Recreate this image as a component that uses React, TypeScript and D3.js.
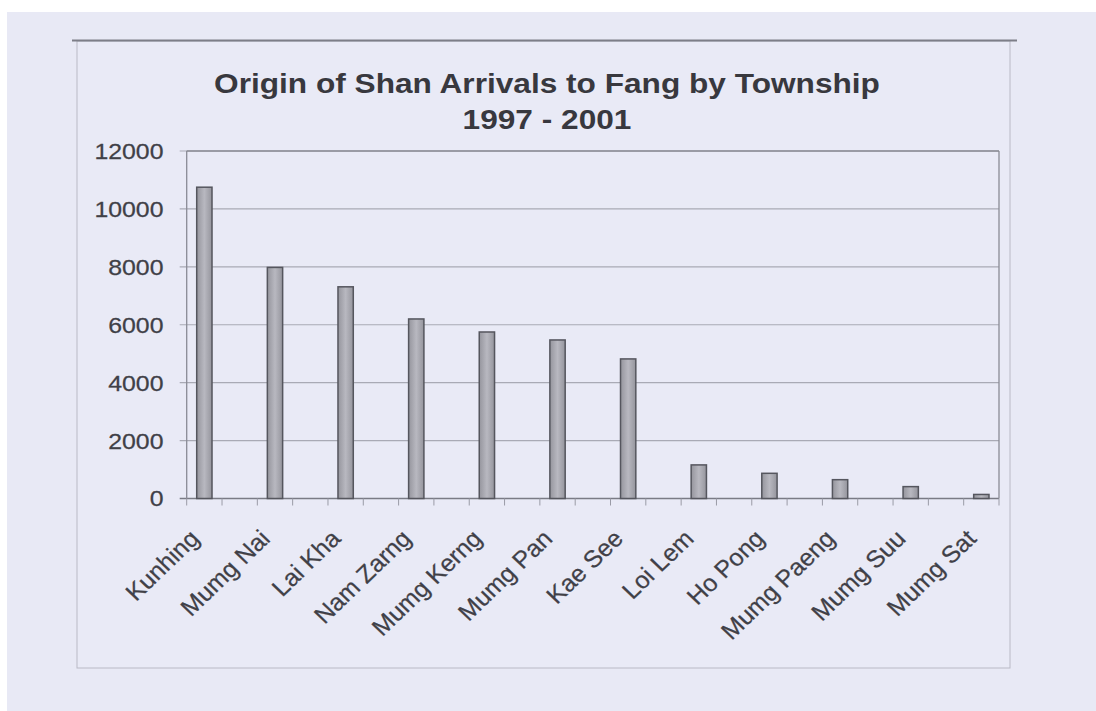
import React from "react";
import * as d3 from "d3";

const categories = [
  "Kunhing", "Mumg Nai", "Lai Kha", "Nam Zarng", "Mumg Kerng", "Mumg Pan",
  "Kae See", "Loi Lem", "Ho Pong", "Mumg Paeng", "Mumg Suu", "Mumg Sat",
];
const values = [10750, 7980, 7310, 6200, 5750, 5475, 4820, 1160, 870, 650, 410, 140];
const yTicks = [0, 2000, 4000, 6000, 8000, 10000, 12000];
const titleLines = ["Origin of Shan Arrivals to Fang by Township", "1997 - 2001"];

const W = 1096;
const H = 711;
const left = 186.7;
const right = 999;
const top = 151;
const bottom = 498.5;
const SX = 1.13;
const FONT = "'Liberation Sans', Arial, sans-serif";

export default function App() {
  const slots = categories.length * 2 - 1;
  const slot = (right - left) / slots;
  const x = d3.scalePoint<string>().domain(categories).range([left + slot / 2, right - slot / 2]);
  const tickX = d3.scaleLinear().domain([0, slots]).range([left, right]);
  const y = d3.scaleLinear().domain([0, 12000]).range([bottom, top]);
  const barW = 15.3;

  return (
    <svg width={W} height={H} style={{ position: "absolute", left: 0, top: 0, display: "block" }}>
      <defs>
        <linearGradient id="barFill" x1="0" x2="1" y1="0" y2="0">
          <stop offset="0" stopColor="#95959d" />
          <stop offset="0.5" stopColor="#b8b8c0" />
          <stop offset="1" stopColor="#95959d" />
        </linearGradient>
      </defs>
      <rect x={0} y={0} width={W} height={H} fill="#ffffff" />
      <rect x={7} y={12} width={W - 7} height={H - 12} fill="#e8e9f5" />
      {/* chart frame */}
      <rect x={77} y={41} width={1010 - 77} height={668 - 41} fill="#e9eaf6" stroke="#b9bac6" strokeWidth={1} />
      <line x1={72} x2={1017} y1={40.5} y2={40.5} stroke="#7d7e88" strokeWidth={2} />

      {/* title */}
      {titleLines.map((t, i) => (
        <text
          key={t}
          transform={`translate(547,${i === 0 ? 93 : 129}) scale(${SX},1)`}
          textAnchor="middle"
          fontFamily={FONT}
          fontWeight="bold"
          fontSize={28}
          fill="#38383e"
        >
          {t}
        </text>
      ))}

      {/* gridlines */}
      {yTicks.map((v) => (
        <line key={"g" + v} x1={left - 7} x2={right} y1={y(v)} y2={y(v)} stroke={v === 0 ? "#7a7b85" : "#a9aab5"} strokeWidth={v === 0 ? 1.5 : 1.2} />
      ))}
      {/* plot border */}
      <line x1={left} x2={left} y1={top} y2={bottom} stroke="#8a8b95" strokeWidth={1.3} />
      <line x1={right} x2={right} y1={top} y2={bottom} stroke="#8a8b95" strokeWidth={1.3} />
      <line x1={left} x2={right} y1={top} y2={top} stroke="#8a8b95" strokeWidth={1.3} />

      {/* x ticks */}
      {d3.range(slots + 1).map((k) => (
        <line key={"t" + k} x1={tickX(k)} x2={tickX(k)} y1={bottom} y2={bottom + 7} stroke="#9a9ba6" strokeWidth={1} />
      ))}

      {/* y tick labels */}
      {yTicks.map((v) => (
        <text
          key={"l" + v}
          transform={`translate(163.5,${y(v)}) scale(${SX},1)`}
          textAnchor="end"
          dy="0.36em"
          fontFamily={FONT}
          fontSize={22}
          fill="#404047"
          stroke="#404047"
          strokeWidth={0.25}
        >
          {v}
        </text>
      ))}

      {/* bars */}
      {categories.map((c, i) => (
        <rect
          key={"b" + c}
          x={(x(c) as number) - barW / 2}
          y={y(values[i])}
          width={barW}
          height={bottom - y(values[i])}
          fill="url(#barFill)"
          stroke="#55565e"
          strokeWidth={1.5}
        />
      ))}

      {/* category labels */}
      {categories.map((c) => (
        <text
          key={"c" + c}
          transform={`translate(${(x(c) as number) - 10},534) scale(1.04,1) rotate(-45)`}
          textAnchor="end"
          dy="0.36em"
          fontFamily={FONT}
          fontSize={24}
          fill="#404047"
          stroke="#404047"
          strokeWidth={0.25}
        >
          {c}
        </text>
      ))}
    </svg>
  );
}
